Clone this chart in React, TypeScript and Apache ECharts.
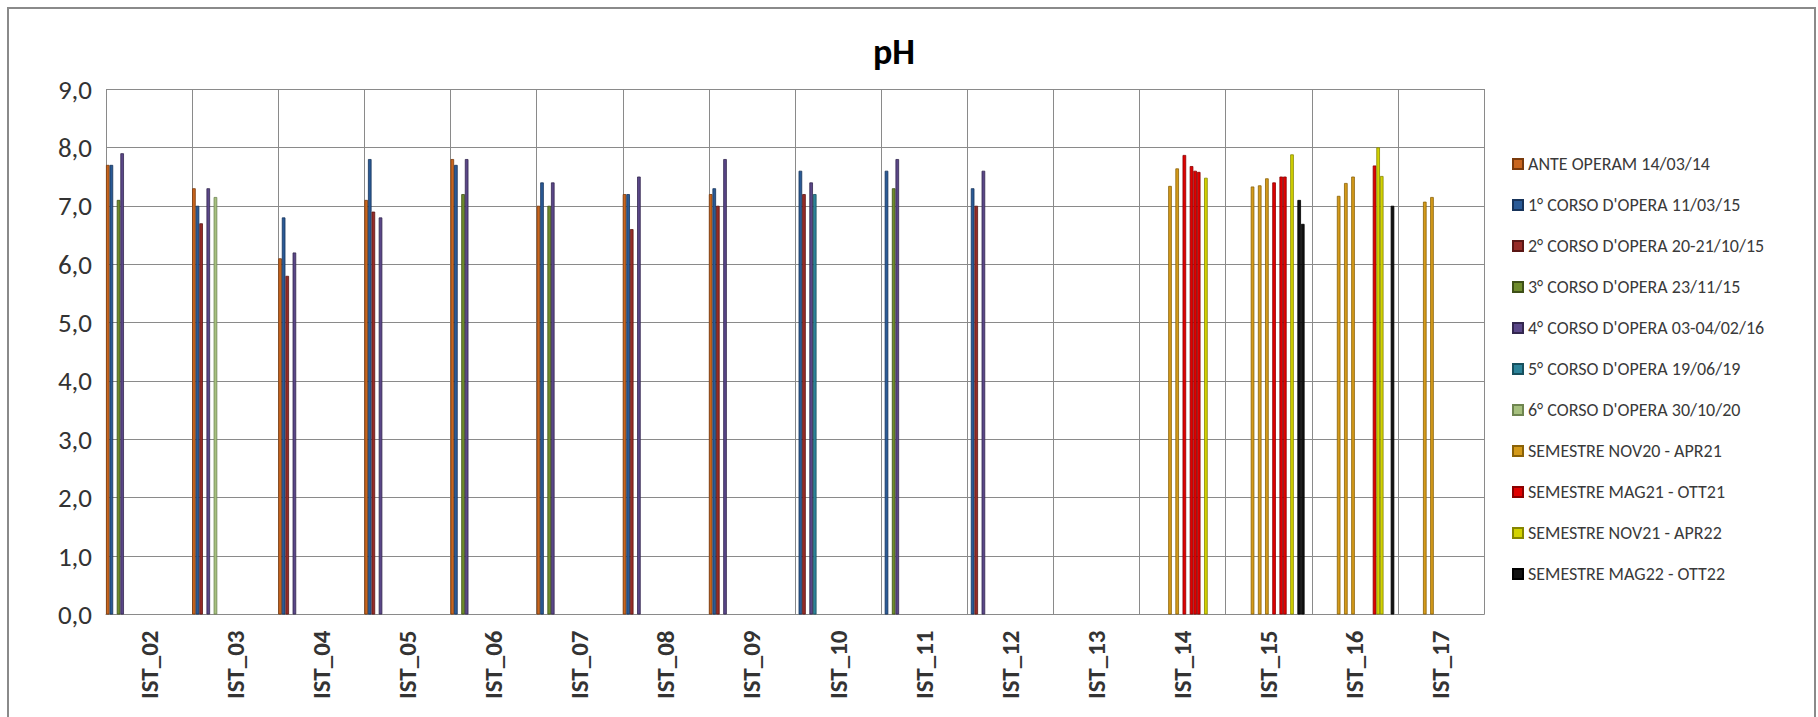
import React, { useEffect, useRef } from 'react';
import * as echarts from 'echarts';

// ---------- DATA ----------
const categories = [
  'IST_02', 'IST_03', 'IST_04', 'IST_05', 'IST_06', 'IST_07', 'IST_08', 'IST_09',
  'IST_10', 'IST_11', 'IST_12', 'IST_13', 'IST_14', 'IST_15', 'IST_16', 'IST_17',
];

const seriesNames = [
  'ANTE OPERAM 14/03/14',
  "1° CORSO D'OPERA 11/03/15",
  "2° CORSO D'OPERA 20-21/10/15",
  "3° CORSO D'OPERA 23/11/15",
  "4° CORSO D'OPERA 03-04/02/16",
  "5° CORSO D'OPERA 19/06/19",
  "6° CORSO D'OPERA 30/10/20",
  'SEMESTRE NOV20 - APR21',
  'SEMESTRE MAG21 - OTT21',
  'SEMESTRE NOV21 - APR22',
  'SEMESTRE MAG22 - OTT22',
];

// campaign values per station (IST_02 ... IST_17), null = not measured
const anteOperam = [7.7, 7.3, 6.1, 7.1, 7.8, 7.0, 7.2, 7.2, null, null, null, null, null, null, null, null];
const corso1 = [7.7, 7.0, 6.8, 7.8, 7.7, 7.4, 7.2, 7.3, 7.6, 7.6, 7.3, null, null, null, null, null];
const corso2 = [null, 6.7, 5.8, 6.9, null, null, 6.6, 7.0, 7.2, null, 7.0, null, null, null, null, null];
const corso3 = [7.1, null, null, null, 7.2, 7.0, null, null, null, 7.3, null, null, null, null, null, null];
const corso4 = [7.9, 7.3, 6.2, 6.8, 7.8, 7.4, 7.5, 7.8, 7.4, 7.8, 7.6, null, null, null, null, null];
const corso5 = [null, null, null, null, null, null, null, null, 7.2, null, null, null, null, null, null, null];
const corso6 = [null, 7.15, null, null, null, null, null, null, null, null, null, null, null, null, null, null];

// semester monitoring: one row per sampling campaign, values for these stations
const semStations = ['IST_14', 'IST_15', 'IST_16', 'IST_17'];
const semNov20Apr21 = [
  [null, 7.33, 7.17, 7.07],
  [7.34, null, null, null],
  [null, 7.35, 7.39, 7.15],
  [7.64, null, null, null],
  [null, 7.47, 7.5, null],
];
const semMag21Ott21 = [
  [7.87, null, null, null],
  [null, 7.4, null, null],
  [7.68, null, null, null],
  [7.6, 7.5, null, null],
  [7.58, 7.5, null, null],
  [null, null, 7.69, null],
];
const semNov21Apr22 = [
  [7.48, 7.88, 8.0, null],
  [null, null, 7.51, null],
];
const semMag22Ott22 = [
  [null, 7.1, null, null],
  [null, 6.69, null, null],
  [null, null, 7.0, null],
  [null, null, null, null],
];

// ---------- STYLE ----------
const colors = [
  '#C8651E', '#2A5A96', '#962B27', '#6E8B2C', '#5A4788', '#2C8399', '#A6C07E',
  '#D49A1A', '#E00000', '#D2D200', '#111111',
];
const borders = [
  '#7A3A0C', '#17335A', '#5A1614', '#3E5017', '#33274F', '#17505E', '#6E8550',
  '#8A6208', '#8A0000', '#858500', '#000000',
];
const FONT = 'Carlito, Lato, "Open Sans", sans-serif';

function toData(arr: (number | null)[]) {
  return arr.map((v) => (v === null ? '-' : v));
}

function semToFull(row: (number | null)[]) {
  return categories.map((c) => {
    const i = semStations.indexOf(c);
    return i >= 0 ? row[i] : null;
  });
}

function buildSeries() {
  const early = [anteOperam, corso1, corso2, corso3, corso4, corso5, corso6];
  const out: any[] = [];
  const mk = (nameIdx: number, arr: (number | null)[]) => ({
    type: 'bar',
    name: seriesNames[nameIdx],
    data: toData(arr),
    barGap: '0%',
    barCategoryGap: '0%',
    silent: true,
    itemStyle: { color: colors[nameIdx], borderColor: borders[nameIdx], borderWidth: 0.8 },
    emphasis: { disabled: true },
  });
  early.forEach((arr, i) => out.push(mk(i, arr)));
  [semNov20Apr21, semMag21Ott21, semNov21Apr22, semMag22Ott22].forEach((group, g) => {
    group.forEach((row) => out.push(mk(7 + g, semToFull(row))));
  });
  return out;
}

export default function App() {
  const ref = useRef<HTMLDivElement>(null);
  useEffect(() => {
    if (!ref.current) return;
    const chart = echarts.init(ref.current, undefined, { renderer: 'svg' });
    chart.setOption({
      animation: false,
      backgroundColor: '#ffffff',
      graphic: [
        {
          type: 'rect',
          shape: { x: 8, y: 8, width: 1807, height: 730 },
          style: { fill: 'none', stroke: '#8a8a8a', lineWidth: 2 },
          silent: true,
        },
        {
          type: 'text',
          x: 894,
          y: 52,
          style: {
            text: 'pH',
            font: `bold 36px ${FONT}`,
            align: 'center',
            verticalAlign: 'middle',
            fill: '#000000',
          },
          silent: true,
        },
      ],
      grid: { left: 106, top: 89, right: 334, bottom: 102.5, containLabel: false },
      legend: {
        orient: 'vertical',
        left: 1507,
        top: 150,
        itemWidth: 10,
        itemHeight: 10,
        itemGap: 23,
        icon: 'rect',
        data: seriesNames,
        selectedMode: false,
        textStyle: { fontSize: 18, color: '#3a3a3a', fontFamily: FONT, lineHeight: 18 },
      },
      xAxis: {
        type: 'category',
        data: categories,
        axisLine: { show: true, lineStyle: { color: '#8a8a8a', width: 1 } },
        axisTick: { show: false },
        splitLine: { show: true, lineStyle: { color: '#8a8a8a', width: 1 } },
        axisLabel: {
          interval: 0,
          rotate: 90,
          margin: 16,
          fontSize: 25,
          fontWeight: 'bold',
          color: '#333333',
          fontFamily: FONT,
        },
      },
      yAxis: {
        type: 'value',
        min: 0,
        max: 9,
        interval: 1,
        axisLine: { show: false },
        axisTick: { show: false },
        splitLine: { show: true, lineStyle: { color: '#8a8a8a', width: 1 } },
        axisLabel: {
          margin: 14,
          fontSize: 27,
          color: '#333333',
          fontFamily: FONT,
          formatter: (v: number) => v.toFixed(1).replace('.', ','),
        },
      },
      series: buildSeries(),
    });
    return () => chart.dispose();
  }, []);
  return (
    <div
      ref={ref}
      style={{ position: 'absolute', left: 0, top: 0, width: 1818, height: 717, background: '#fff' }}
    />
  );
}
